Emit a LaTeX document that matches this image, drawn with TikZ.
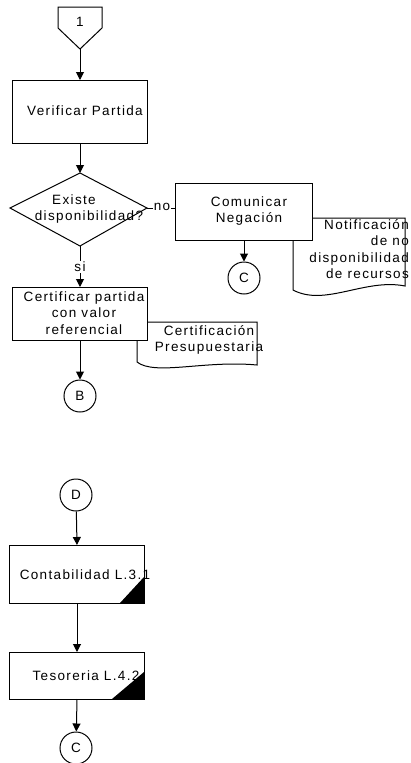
\documentclass[tikz,border=0pt]{standalone}
\usepackage{fontspec}
\setmainfont{Liberation Sans}[LetterSpace=10]
\usetikzlibrary{arrows.meta}
\begin{document}
\begin{tikzpicture}[x=1pt,y=-1pt,
  every node/.style={font=\fontsize{13.5}{16.5}\selectfont, inner sep=0pt},
  ln/.style={line width=1pt},
  arr/.style={ln, -{Triangle[length=8pt,width=8pt]}},
  conn/.style={ln, draw, circle, fill=white, minimum size=32pt},
  lbl/.style={fill=white, inner sep=1pt},
  txt/.style={align=center}]
\useasboundingbox (0,0) rectangle (410,763);

% off-page connector "1"
\draw[ln, fill=white] (58,7) -- (102,7) -- (102,28) -- (80,49) -- (58,28) -- cycle;
\node (p1) at (80,22) {1};
\coordinate (p1tip) at (80,49);

% Verificar Partida
\draw[ln, fill=white] (12,80) rectangle (147,143);
\coordinate (vtop) at (80,80);
\coordinate (vbot) at (80,143);
\node (ver) at (85,111) {Verificar Partida};

% decision
\draw[ln, fill=white] (80,173) -- (147,208) -- (80,246) -- (10,208) -- cycle;
\coordinate (dtop) at (80,173);
\coordinate (dright) at (147,208);
\coordinate (dbot) at (80,246);
\node (dec1) at (74,200) {Existe};
\node (dec2) at (89,217) {disponibilidad?};

% notification document (behind the box)
\draw[fill=white, draw=none] (293,218) -- (405,218) -- (405,286)
  .. controls (365,278) and (325,307) .. (293,290) -- cycle;
\node[align=right, anchor=north east] (notif) at (409,219)
  {Notificación\\de no\\disponibilidad\\de recursos};
\draw[ln] (293,218) -- (405,218) -- (405,286)
  .. controls (365,278) and (325,307) .. (293,290) -- cycle;

% Comunicar Negacion
\draw[ln, fill=white] (175,183) rectangle (312,240);
\coordinate (cleft) at (175,208);
\coordinate (cbot) at (244,240);
\node[txt] (com) at (249,211) {Comunicar\\Negación};

\node[conn] (c1) at (244,278) {C};

% certification document (behind the box)
\draw[fill=white, draw=none] (137,322) -- (257,322) -- (257,365)
  .. controls (205,360) and (155,376) .. (137,362) -- cycle;
\node[txt] (cert) at (209,340) {Certificación\\Presupuestaria};
\draw[ln] (137,322) -- (257,322) -- (257,365)
  .. controls (205,360) and (155,376) .. (137,362) -- cycle;

% Certificar partida
\draw[ln, fill=white] (12,287) rectangle (147,340);
\coordinate (ctop) at (80,287);
\coordinate (cfbot) at (80,340);
\node[txt] (cfp) at (84,313) {Certificar partida\\con valor\\referencial};

\node[conn] (b) at (80,396) {B};

% connectors, upper part
\draw[arr] (p1tip) -- (vtop);
\draw[arr] (vbot) -- (dtop);
\draw[ln] (dright) -- (cleft);
\node[lbl] (no) at (162,207) {no};
\draw[arr] (dbot) -- (ctop);
\node[lbl] (si) at (80,267) {si};
\draw[arr] (cbot) -- (c1);
\draw[arr] (cfbot) -- (b);

% lower part
\node[conn] (d) at (76,495) {D};

\draw[ln, fill=white] (9,545) rectangle (144,603);
\coordinate (k1top) at (77,545);
\coordinate (k1bot) at (77,603);
\node (cont) at (85,575) {Contabilidad L.3.1};
\fill (144,603) -- (144,577) -- (120,603) -- cycle;

\draw[ln, fill=white] (9,652) rectangle (144,699);
\coordinate (k2top) at (77,652);
\coordinate (k2bot) at (77,699);
\node (tes) at (86,676) {Tesoreria L.4.2};
\fill (144,699) -- (144,672) -- (112,699) -- cycle;

\node[conn] (c2) at (76,748) {C};

\draw[arr] (d) -- (k1top);
\draw[arr] (k1bot) -- (k2top);
\draw[arr] (k2bot) -- (c2);
\end{tikzpicture}
\end{document}
